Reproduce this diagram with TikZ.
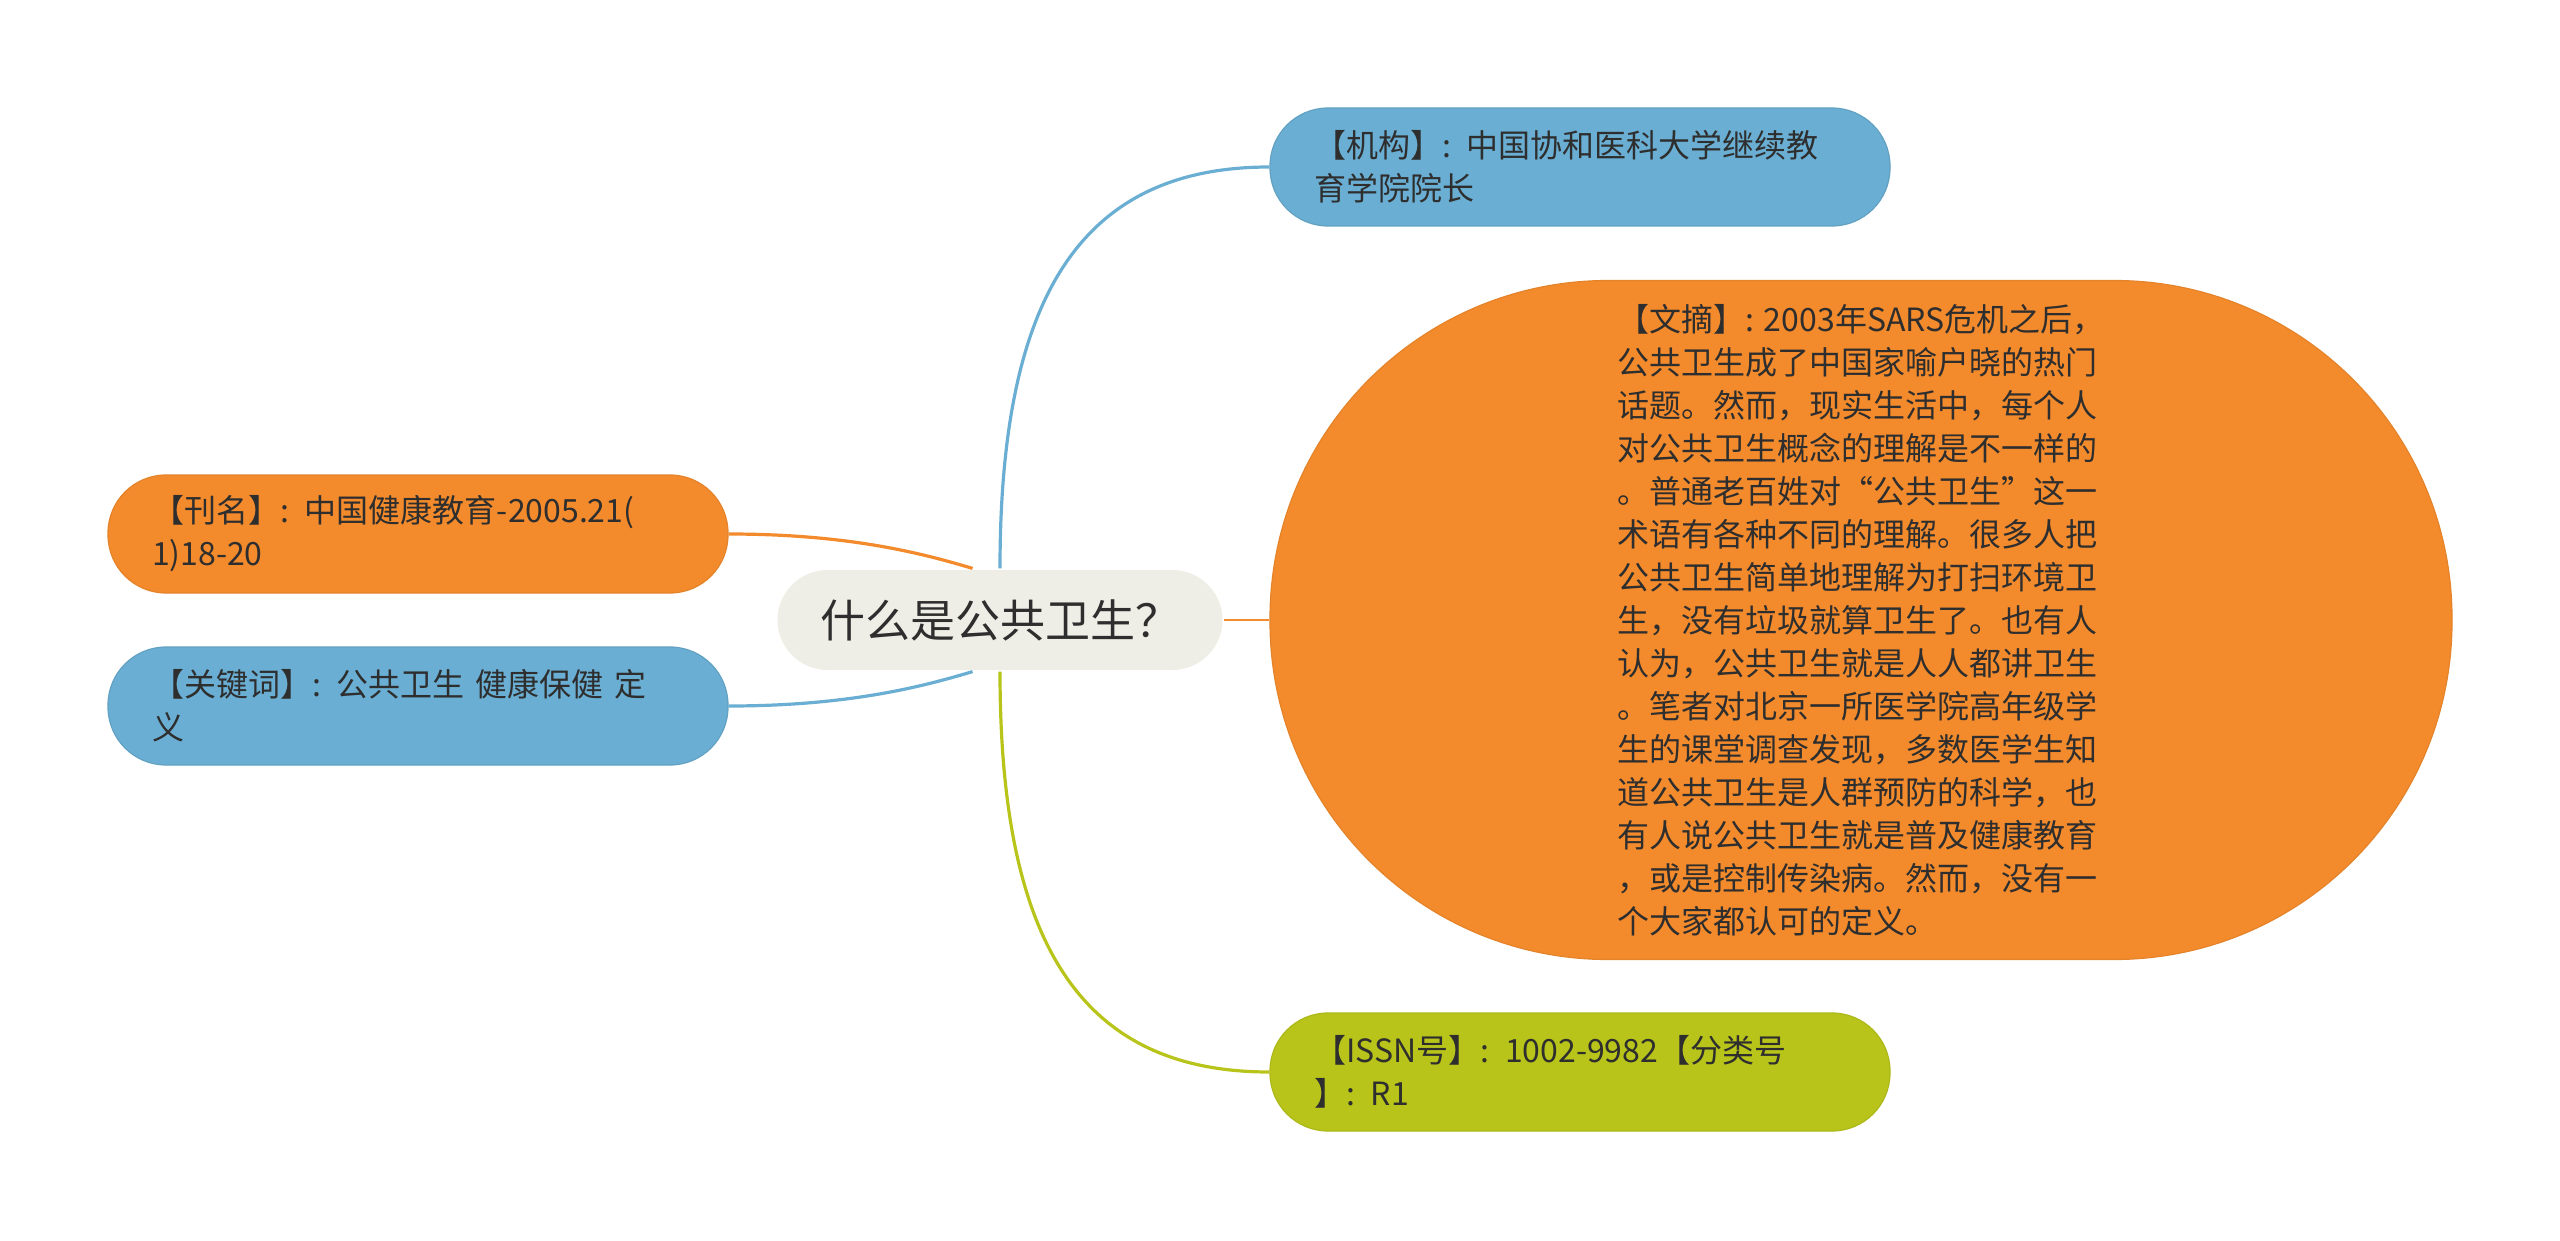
\documentclass[tikz,border=0pt]{standalone}
\usepackage{fontspec}
\newfontfamily\cjk{Noto Sans CJK SC}
\usetikzlibrary{positioning}
\definecolor{rootgrey}{HTML}{EFEEE6}
\definecolor{topicblue}{HTML}{6AAFD3}
\definecolor{topicorange}{HTML}{F38B2D}
\definecolor{topicgreen}{HTML}{B8C41A}
\definecolor{textdark}{HTML}{2E2E2E}

\begin{document}
\begin{tikzpicture}[x=0.5pt, y=-0.5pt, on grid,
  line width=1.6pt, text=textdark,
  central/.style={rectangle, fill=rootgrey, rounded corners=25pt,
    minimum width=222.5pt, minimum height=50pt,
    font=\cjk\fontsize{22.5}{27}\selectfont},
  topic/.style={rectangle, rounded corners=29pt, line width=0.6pt,
    minimum height=59pt, inner xsep=22pt, text width=266pt, align=left,
    font=\cjk\fontsize{16}{21.5}\selectfont},
  abstract/.style={rectangle, rounded corners=169pt, line width=0.6pt,
    minimum width=591pt, minimum height=339.5pt, align=left,
    font=\cjk\fontsize{16}{21.5}\selectfont}
]
\useasboundingbox (0,0) rectangle (2560,1241);

\node[central] (root) at (1000,620) {什么是公共卫生？};
\node[topic, fill=topicblue, draw=topicblue!92!black] (inst)
    [above right = 226.5pt and 290pt of root]
    {【机构】: 中国协和医科大学继续教\\育学院院长};
\node[abstract, fill=topicorange, draw=topicorange!94!black] (abst)
    [right = 430.5pt of root]
    {【文摘】: 2003年SARS危机之后，\\
     公共卫生成了中国家喻户晓的热门\\
     话题。然而，现实生活中，每个人\\
     对公共卫生概念的理解是不一样的\\
     。普通老百姓对“公共卫生”这一\\
     术语有各种不同的理解。很多人把\\
     公共卫生简单地理解为打扫环境卫\\
     生，没有垃圾就算卫生了。也有人\\
     认为，公共卫生就是人人都讲卫生\\
     。笔者对北京一所医学院高年级学\\
     生的课堂调查发现，多数医学生知\\
     道公共卫生是人群预防的科学，也\\
     有人说公共卫生就是普及健康教育\\
     ，或是控制传染病。然而，没有一\\
     个大家都认可的定义。};
\node[topic, fill=topicgreen, draw=topicgreen!94!black] (issn)
    [below right = 226pt and 290pt of root]
    {【ISSN号】: 1002-9982【分类号\\】: R1};
\node[topic, fill=topicorange, draw=topicorange!94!black] (journal)
    [above left = 43pt and 291pt of root]
    {【刊名】: 中国健康教育-2005.21(\\1)18-20};
\node[topic, fill=topicblue, draw=topicblue!92!black] (keys)
    [below left = 43pt and 291pt of root]
    {【关键词】: 公共卫生 健康保健 定\\义};

% branches
\draw[topicblue] (root.north) .. controls +(0,-270) and +(-190,0) .. (inst.west);
\draw[topicgreen] (root.south) .. controls +(0,270) and +(-190,0) .. (issn.west);
\draw[topicorange, line width=1.2pt] (root.east) -- (abst.west);
\draw[topicorange] (journal.east) .. controls +(120,0) and +(-50,-15) .. (root.118);
\draw[topicblue] (keys.east) .. controls +(120,0) and +(-50,15) .. (root.-118);
\end{tikzpicture}
\end{document}
